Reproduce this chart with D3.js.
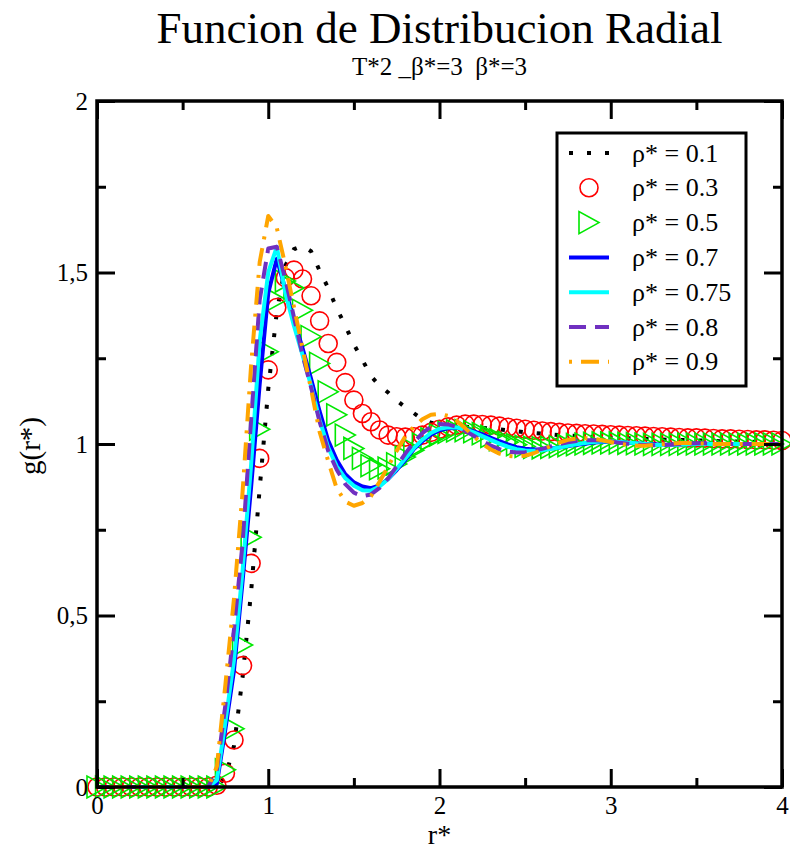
<!DOCTYPE html>
<html>
<head>
<meta charset="utf-8">
<script src="https://cdn.jsdelivr.net/npm/d3@7"></script>
<style>
  html, body { margin: 0; padding: 0; background: #fff; }
  svg { display: block; }
</style>
</head>
<body>
<svg id="chart" width="790" height="850"></svg>
<script>
// ---------- DATA ----------
const rValues = [0,0.05,0.1,0.15,0.2,0.25,0.3,0.35,0.4,0.45,0.5,0.55,0.6,0.65,
  0.7,0.75,0.8,0.85,0.9,0.95,1.0,1.05,1.1,1.15,1.2,1.25,1.3,1.35,1.4,1.45,
  1.5,1.55,1.6,1.65,1.7,1.75,1.8,1.85,1.9,1.95,2.0,2.05,2.1,2.15,2.2,2.25,
  2.3,2.35,2.4,2.45,2.5,2.55,2.6,2.65,2.7,2.75,2.8,2.85,2.9,2.95,3.0,3.05,
  3.1,3.15,3.2,3.25,3.3,3.35,3.4,3.45,3.5,3.55,3.6,3.65,3.7,3.75,3.8,3.85,
  3.9,3.95,4.0];

const g01 = [0,0,0,0,0,0,0,0,0,0,0,0,0,0,
  0.0,0.03,0.12,0.32,0.57,0.87,1.16,1.385,1.52,1.568,1.578,1.562,1.505,1.455,1.395,1.345,
  1.29,1.245,1.198,1.17,1.15,1.127,1.107,1.09,1.072,1.062,1.056,1.053,1.051,1.05,1.049,1.047,
  1.045,1.043,1.04,1.037,1.034,1.032,1.03,1.028,1.026,1.025,1.023,1.022,1.021,1.02,1.019,1.018,
  1.017,1.016,1.015,1.014,1.013,1.012,1.012,1.011,1.01,1.01,1.009,1.008,1.008,1.007,1.007,1.006,
  1.006,1.005,1.005];

const g03 = [0,0,0,0,0,0,0,0,0,0,0,0,0,0,
  0.005,0.04,0.137,0.354,0.652,0.958,1.216,1.398,1.485,1.507,1.481,1.432,1.359,1.293,1.238,1.179,
  1.128,1.089,1.065,1.041,1.026,1.021,1.02,1.021,1.026,1.034,1.043,1.05,1.055,1.058,1.058,1.057,
  1.055,1.052,1.049,1.046,1.043,1.04,1.038,1.036,1.034,1.032,1.031,1.03,1.029,1.028,1.027,1.026,
  1.025,1.024,1.023,1.022,1.021,1.02,1.019,1.018,1.018,1.017,1.016,1.015,1.015,1.014,1.013,1.012,
  1.012,1.011,1.01];

const g05 = [0,0,0,0,0,0,0,0,0,0,0,0,0,0,
  0.0,0.05,0.17,0.414,0.728,1.043,1.269,1.42,1.475,1.455,1.39,1.313,1.235,1.152,1.085,1.026,
  0.987,0.958,0.937,0.928,0.93,0.942,0.962,0.982,1.0,1.015,1.026,1.034,1.038,1.039,1.036,1.03,
  1.022,1.013,1.005,0.998,0.993,0.99,0.989,0.99,0.992,0.995,0.998,1.0,1.002,1.003,1.003,1.003,
  1.002,1.001,1.0,0.999,0.999,0.999,0.999,1.0,1.0,1.0,1.0,1.0,1.0,1.0,1.0,1.0,
  1.0,1.0,1.0];

const g07 = [0,0,0,0,0,0,0,0,0,0,0,0,0,0,
  0.01,0.17,0.34,0.6,0.875,1.175,1.44,1.54,1.45,1.36,1.28,1.19,1.095,1.01,0.953,0.912,
  0.888,0.876,0.871,0.879,0.898,0.924,0.953,0.985,1.008,1.027,1.04,1.046,1.047,1.044,1.037,1.028,
  1.018,1.008,0.999,0.991,0.986,0.984,0.984,0.987,0.99,0.994,0.998,1.001,1.004,1.006,1.006,1.005,
  1.004,1.002,1.0,0.999,0.998,0.998,0.999,1.0,1.001,1.001,1.0,1.0,1.0,1.0,1.0,1.0,
  1.0,1.0,1.0];

const g075 = [0,0,0,0,0,0,0,0,0,0,0,0,0,0,
  0.02,0.19,0.37,0.63,0.94,1.3,1.5,1.575,1.44,1.345,1.26,1.17,1.07,0.99,0.935,0.9,
  0.878,0.865,0.864,0.876,0.898,0.927,0.958,0.988,1.013,1.032,1.044,1.049,1.048,1.043,1.034,1.023,
  1.012,1.001,0.992,0.985,0.981,0.98,0.982,0.986,0.99,0.995,0.999,1.003,1.006,1.007,1.007,1.006,
  1.004,1.002,1.0,0.998,0.997,0.997,0.998,0.999,1.0,1.0,1.0,1.0,1.0,1.0,1.0,1.0,
  1.0,1.0,1.0];

const g08 = [0,0,0,0,0,0,0,0,0,0,0,0,0,0,
  0.05,0.24,0.46,0.71,1.07,1.42,1.57,1.575,1.48,1.37,1.26,1.165,1.065,0.98,0.925,0.883,
  0.858,0.848,0.853,0.872,0.9,0.935,0.972,1.005,1.032,1.05,1.058,1.057,1.05,1.038,1.024,1.009,
  0.995,0.985,0.978,0.975,0.976,0.98,0.986,0.993,1.0,1.005,1.009,1.011,1.011,1.01,1.007,1.004,
  1.001,0.998,0.997,0.996,0.997,0.998,1.0,1.001,1.002,1.002,1.001,1.0,1.0,1.0,1.0,1.0,
  1.0,1.0,1.0];

const g09 = [0,0,0,0,0,0,0,0,0,0,0,0,0,0,
  0.06,0.3,0.55,0.86,1.23,1.53,1.665,1.63,1.52,1.4,1.28,1.16,1.035,0.95,0.87,0.832,
  0.82,0.828,0.848,0.89,0.935,0.98,1.022,1.05,1.072,1.085,1.088,1.082,1.068,1.046,1.022,1.0,
  0.984,0.972,0.965,0.963,0.966,0.973,0.983,0.994,1.004,1.012,1.016,1.017,1.015,1.011,1.006,1.001,
  0.997,0.995,0.995,0.997,0.999,1.001,1.003,1.003,1.002,1.001,1.0,1.0,1.0,1.0,1.0,1.0,
  1.0,1.0,1.0];

const seriesLabels = ["ρ* = 0.1","ρ* = 0.3","ρ* = 0.5","ρ* = 0.7","ρ* = 0.75","ρ* = 0.8","ρ* = 0.9"];
const xMajorTicks = [0,1,2,3,4];
const xMinorTicks = [0.5,1.5,2.5,3.5];
const yMajorTicks = [0,0.5,1,1.5,2];
const yMinorTicks = [0.25,0.75,1.25,1.75];
const titleText = "Funcion de Distribucion Radial";
const subtitleText = "T*2 _β*=3  β*=3";
const xLabel = "r*";
const yLabel = "g(r*)";

// ---------- STYLES ----------
const FONT = '"Liberation Serif", "Times New Roman", Tinos, serif';
const series = [
  {label: seriesLabels[0], values: g01, kind: "line", color: "#000000", width: 4, dash: "4,14"},
  {label: seriesLabels[1], values: g03, kind: "circle", color: "#ff0000"},
  {label: seriesLabels[2], values: g05, kind: "triangle", color: "#00e800"},
  {label: seriesLabels[3], values: g07, kind: "line", color: "#0000ff", width: 4, dash: null},
  {label: seriesLabels[4], values: g075, kind: "line", color: "#00ffff", width: 4, dash: null},
  {label: seriesLabels[5], values: g08, kind: "line", color: "#7030c0", width: 4, dash: "17,9"},
  {label: seriesLabels[6], values: g09, kind: "line", color: "#ffa500", width: 4, dash: "3,9,18,9"}
];

const svg = d3.select("#chart");
svg.append("rect").attr("width", 790).attr("height", 850).attr("fill", "#fff");

const L = 97, R = 782, T = 101, B = 787;
const x = d3.scaleLinear().domain([0, 4]).range([L, R]);
const y = d3.scaleLinear().domain([0, 2]).range([B, T]);

const txt = (sel) => sel.style("font-family", FONT).attr("fill", "#000");

// Title
svg.append("text").attr("x", (L + R) / 2).attr("y", 43).attr("text-anchor", "middle")
  .attr("font-size", 45).call(txt).text(titleText);
svg.append("text").attr("x", (L + R) / 2).attr("y", 75).attr("text-anchor", "middle")
  .attr("font-size", 25).attr("xml:space", "preserve")
  .style("white-space", "pre").call(txt).text(subtitleText);

// Data layer
const plot = svg.append("g");
const lineGen = d3.line().x((d, i) => x(rValues[i])).y(d => y(d));

const triPath = "M-10,-11 L-10,11 L10,0 Z";

series.forEach(s => {
  if (s.kind === "line") {
    plot.append("path").datum(s.values)
      .attr("d", lineGen)
      .attr("fill", "none")
      .attr("stroke", s.color)
      .attr("stroke-width", s.width)
      .attr("stroke-linejoin", "round")
      .attr("stroke-dasharray", s.dash);
  } else if (s.kind === "circle") {
    plot.append("g").selectAll("circle").data(s.values).join("circle")
      .attr("cx", (d, i) => x(rValues[i])).attr("cy", d => y(d))
      .attr("r", 9).attr("fill", "none").attr("stroke", s.color).attr("stroke-width", 1.6);
  } else {
    plot.append("g").selectAll("path").data(s.values).join("path")
      .attr("transform", (d, i) => `translate(${x(rValues[i])},${y(d)})`)
      .attr("d", triPath).attr("fill", "none").attr("stroke", s.color).attr("stroke-width", 1.6);
  }
});

// Axes (ticks inward on all sides)
const axisStyle = g => {
  g.selectAll(".domain").remove();
  g.selectAll(".tick line").attr("stroke", "#000").attr("stroke-width", 3);
};
const fmtY = d => String(d).replace(".", ",");

svg.append("g").attr("transform", `translate(0,${B})`)
  .call(d3.axisBottom(x).tickValues(xMajorTicks).tickSize(-18).tickFormat(d => d))
  .call(axisStyle)
  .call(g => g.selectAll("text").call(txt).attr("font-size", 25).attr("y", 9).attr("dy", "0.71em"));
svg.append("g").attr("transform", `translate(0,${B})`)
  .call(d3.axisBottom(x).tickValues(xMinorTicks).tickSize(-9).tickFormat(""))
  .call(axisStyle);
svg.append("g").attr("transform", `translate(0,${T})`)
  .call(d3.axisTop(x).tickValues(xMajorTicks).tickSize(-18).tickFormat(""))
  .call(axisStyle);
svg.append("g").attr("transform", `translate(0,${T})`)
  .call(d3.axisTop(x).tickValues(xMinorTicks).tickSize(-9).tickFormat(""))
  .call(axisStyle);

svg.append("g").attr("transform", `translate(${L},0)`)
  .call(d3.axisLeft(y).tickValues(yMajorTicks).tickSize(-18).tickFormat(fmtY))
  .call(axisStyle)
  .call(g => g.selectAll("text").call(txt).attr("font-size", 25).attr("x", -9));
svg.append("g").attr("transform", `translate(${L},0)`)
  .call(d3.axisLeft(y).tickValues(yMinorTicks).tickSize(-9).tickFormat(""))
  .call(axisStyle);
svg.append("g").attr("transform", `translate(${R},0)`)
  .call(d3.axisRight(y).tickValues(yMajorTicks).tickSize(-18).tickFormat(""))
  .call(axisStyle);
svg.append("g").attr("transform", `translate(${R},0)`)
  .call(d3.axisRight(y).tickValues(yMinorTicks).tickSize(-9).tickFormat(""))
  .call(axisStyle);

// Frame
svg.append("rect").attr("x", L).attr("y", T).attr("width", R - L).attr("height", B - T)
  .attr("fill", "none").attr("stroke", "#000").attr("stroke-width", 3.5);

// Axis labels
svg.append("text").attr("x", (L + R) / 2).attr("y", 843.5).attr("text-anchor", "middle")
  .attr("font-size", 28).call(txt).text(xLabel);
svg.append("text").attr("transform", `translate(40,${(T + B) / 2 + 2}) rotate(-90)`)
  .attr("text-anchor", "middle").attr("font-size", 29).call(txt).text(yLabel);

// Legend
const lg = svg.append("g");
lg.append("rect").attr("x", 557).attr("y", 133).attr("width", 189).attr("height", 253)
  .attr("fill", "#fff").attr("stroke", "#000").attr("stroke-width", 3);
series.forEach((s, i) => {
  const cy = 153 + i * 34.8;
  if (s.kind === "line") {
    lg.append("line").attr("x1", 569).attr("x2", 609).attr("y1", cy).attr("y2", cy)
      .attr("stroke", s.color).attr("stroke-width", s.width).attr("stroke-dasharray", s.dash);
  } else if (s.kind === "circle") {
    lg.append("circle").attr("cx", 589).attr("cy", cy).attr("r", 9)
      .attr("fill", "none").attr("stroke", s.color).attr("stroke-width", 1.6);
  } else {
    lg.append("path").attr("transform", `translate(589,${cy})`).attr("d", triPath)
      .attr("fill", "none").attr("stroke", s.color).attr("stroke-width", 1.6);
  }
  lg.append("text").attr("x", 632).attr("y", cy + 8.5).attr("font-size", 26)
    .attr("xml:space", "preserve").style("white-space", "pre").call(txt).text(s.label);
});
</script>
</body>
</html>
